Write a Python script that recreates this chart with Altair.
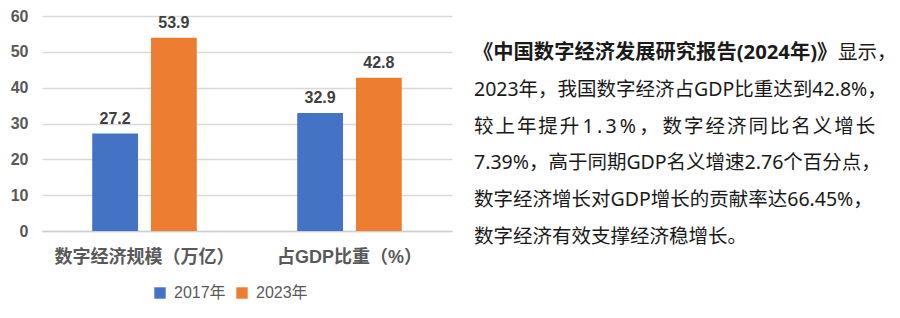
import altair as alt
import pandas as pd

categories = ["数字经济规模（万亿）", "占GDP比重（%）"]
years = ["2017年", "2023年"]
values_2017 = [27.2, 32.9]
values_2023 = [53.9, 42.8]
colors = ["#4472C4", "#ED7D31"]

title_book = "《中国数字经济发展研究报告(2024年)》"
title_tail = "显示，"
HS = "\u200a"
TS = "\u2009"
line3 = (HS.join("较上年提升") + TS + TS.join("1.3%，") + HS + HS
         + HS.join("数字经济同比名义增长"))
body_lines = [
    "",
    "2023年，我国数字经济占GDP比重达到42.8%，",
    line3,
    "7.39%，高于同期GDP名义增速2.76个百分点，",
    "数字经济增长对GDP增长的贡献率达66.45%，",
    "数字经济有效支撑经济稳增长。",
]

rows = []
for c, a, b in zip(categories, values_2017, values_2023):
    rows.append({"category": c, "year": years[0], "value": a})
    rows.append({"category": c, "year": years[1], "value": b})
df = pd.DataFrame(rows)

FONT = "Liberation Sans, Noto Sans CJK SC"
BODY = "Noto Sans, Noto Sans CJK SC"

base = alt.Chart(df).encode(
    x=alt.X(
        "category:N",
        sort=categories,
        scale=alt.Scale(paddingInner=0.49, paddingOuter=0.245),
        axis=alt.Axis(
            title=None, labelAngle=0, labelFontSize=18, labelFontWeight="bold",
            labelColor="#595959", ticks=False, domainColor="#cfcfcf", domainWidth=1.5,
            labelPadding=17, labelFont=FONT,
        ),
    ),
    xOffset=alt.XOffset("year:N", sort=years, scale=alt.Scale(paddingInner=0.22, paddingOuter=0)),
    y=alt.Y(
        "value:Q",
        scale=alt.Scale(domain=[0, 60]),
        axis=alt.Axis(
            title=None, values=[0, 10, 20, 30, 40, 50, 60], domain=False, ticks=False,
            labelFontSize=16, labelFontWeight="bold", labelColor="#595959",
            labelPadding=14, gridColor="#d9d9d9", gridWidth=1.5, labelFont=FONT,
        ),
    ),
)

bars = base.mark_bar().encode(
    color=alt.Color(
        "year:N",
        sort=years,
        scale=alt.Scale(domain=years, range=colors),
        legend=alt.Legend(
            orient="none", legendX=110, legendY=269, direction="horizontal", title=None,
            symbolType="square", symbolSize=130, symbolStrokeWidth=0, labelFontSize=16,
            labelColor="#595959", labelFont=FONT, columnPadding=8, labelOffset=6,
        ),
    )
)

labels = base.mark_text(
    baseline="bottom", dy=-7, fontSize=16, fontWeight="bold", color="#404040", font=FONT
).encode(text=alt.Text("value:Q", format=".1f"))

left = alt.layer(bars, labels).properties(width=410, height=215)

body_df = pd.DataFrame({"i": list(range(len(body_lines))), "t": body_lines})
bold_df = pd.DataFrame({"i": [0], "t": [title_book]})
tail_df = pd.DataFrame({"i": [0], "t": [title_tail]})

yline = alt.Y("i:O", scale=alt.Scale(domain=list(range(6)), padding=1), axis=None)

body = alt.Chart(body_df).mark_text(
    align="left", baseline="middle", fontSize=19.5, font=BODY, color="#1a1a1a"
).encode(x=alt.value(0), y=yline, text="t:N")
bold = alt.Chart(bold_df).mark_text(
    align="left", baseline="middle", fontSize=20.3, font=BODY, fontWeight="bold", color="#1a1a1a"
).encode(x=alt.value(-1), y=yline, text="t:N")
tail = alt.Chart(tail_df).mark_text(
    align="left", baseline="middle", fontSize=19.5, font=BODY, color="#1a1a1a"
).encode(x=alt.value(364), y=yline, text="t:N")

right = alt.layer(body, bold, tail).properties(width=410, height=258)

chart = alt.hconcat(left, right, spacing=21).properties(
    padding={"left": 10, "top": 8, "right": 0, "bottom": 0},
    background="white",
).configure_view(strokeWidth=0)

chart.save("out.html", embed_options={"renderer": "svg", "actions": False})
